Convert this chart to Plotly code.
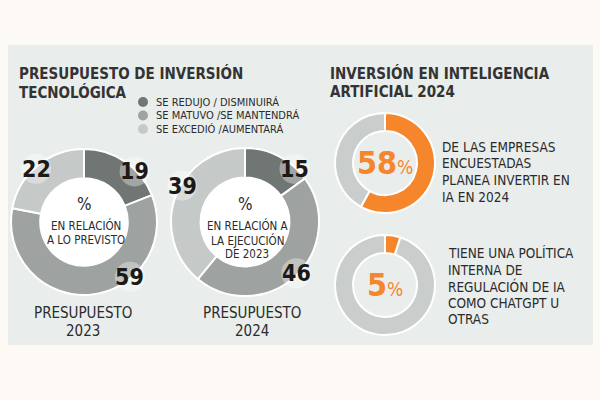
import math
import plotly.graph_objects as go

# ---------------- data ----------------
categories = ["SE REDUJO / DISMINUIRÁ", "SE MATUVO /SE MANTENDRÁ", "SE EXCEDIÓ /AUMENTARÁ"]
values_2023 = [19, 59, 22]
values_2024 = [15, 46, 39]
ai_labels = ["Sí", "No"]
ai_invest_2024 = [58, 42]
ai_policy = [5, 95]
title_left = ["PRESUPUESTO DE INVERSIÓN", "TECNOLÓGICA"]
title_right = ["INVERSIÓN EN INTELIGENCIA", "ARTIFICIAL 2024"]
center_2023 = ["EN RELACIÓN", "A LO PREVISTO"]
center_2024 = ["EN RELACIÓN A", "LA EJECUCIÓN", "DE 2023"]
caption_2023 = ["PRESUPUESTO", "2023"]
caption_2024 = ["PRESUPUESTO", "2024"]
text_invest = ["DE LAS EMPRESAS", "ENCUESTADAS", "PLANEA INVERTIR EN", "IA EN 2024"]
text_policy = ["TIENE UNA POLÍTICA", "INTERNA DE", "REGULACIÓN DE IA", "COMO CHATGPT U", "OTRAS"]

# ---------------- style ----------------
W, H = 600, 400
FONT = "DejaVu Sans Condensed, Roboto, sans-serif"
GRAYS = ["#6f7673", "#9ea3a1", "#c5cac8"]
ORANGE = "#f5862c"
LIGHT = "#c9cecc"
PANEL = "#e9eeec"
BG = "#fdf9f5"
TXT = "#2b2b2b"
NUM = "#1c1916"


def dom(cx, cy, r):
    return dict(x=[(cx - r) / W, (cx + r) / W], y=[(H - cy - r) / H, (H - cy + r) / H])


def px(x):
    return x / W


def py(y):
    return 1 - y / H


fig = go.Figure()
shapes = []
ann = []

# panel
shapes.append(dict(type="rect", xref="paper", yref="paper", x0=px(8), x1=px(593), y0=py(345), y1=py(45),
                   fillcolor=PANEL, line=dict(width=0), layer="below"))

# left donuts
left = [
    (values_2023, 84, 222, 73, center_2023, caption_2023, [45, 140, 318], 83),
    (values_2024, 245, 222, 74, center_2024, caption_2024, [43, 135, 300], 252),
]
for vals, cx, cy, r, ctext, cap, angs, capx in left:
    shapes.append(dict(type="circle", xref="paper", yref="paper", x0=px(cx - r * 0.62), x1=px(cx + r * 0.62),
                       y0=py(cy + r * 0.62), y1=py(cy - r * 0.62), fillcolor="white",
                       line=dict(width=0), layer="below"))
    fig.add_trace(go.Pie(values=vals, labels=categories, hole=0.6, sort=False, direction="clockwise",
                         rotation=0, textinfo="none", hoverinfo="label+value",
                         marker=dict(colors=GRAYS, line=dict(color="white", width=2)),
                         domain=dom(cx, cy, r), showlegend=False))
    # number badges
    for v, a in zip(vals, angs):
        rr = r * 0.98
        lx = cx + rr * math.sin(math.radians(a))
        ly = cy - rr * math.cos(math.radians(a))
        br = 15
        shapes.append(dict(type="circle", xref="paper", yref="paper", x0=px(lx - br), x1=px(lx + br),
                           y0=py(ly + br), y1=py(ly - br), fillcolor="rgba(255,255,255,0.35)",
                           line=dict(width=0), layer="above"))
        ann.append(dict(x=px(lx), y=py(ly), text=f"<b>{v}</b>", showarrow=False,
                        font=dict(family=FONT, size=23, color=NUM), xanchor="center", yanchor="middle"))
    # center text
    ann.append(dict(x=px(cx), y=py(cy - 18), text="%", showarrow=False,
                    font=dict(family=FONT, size=17, color=TXT), xanchor="center", yanchor="middle"))
    for i, t in enumerate(ctext):
        ann.append(dict(x=px(cx + 2), y=py(cy + 4 + i * 14), text=t, showarrow=False,
                        font=dict(family=FONT, size=11.5, color=TXT), xanchor="center", yanchor="middle"))
    for i, t in enumerate(cap):
        ann.append(dict(x=px(capx), y=py(313 + i * 18), text=t, showarrow=False,
                        font=dict(family=FONT, size=15, color=TXT), xanchor="center", yanchor="middle"))

# right donuts
right = [
    (ai_invest_2024, 385, 163, 50, text_invest, 440, 147),
    (ai_policy, 385, 285, 50, text_policy, 446, 253),
]
for vals, cx, cy, r, lines, tx, ty in right:
    fig.add_trace(go.Pie(values=vals, labels=ai_labels, hole=0.64, sort=False, direction="clockwise",
                         rotation=0, textinfo="none", hoverinfo="label+value",
                         marker=dict(colors=[ORANGE, LIGHT], line=dict(color="white", width=2)),
                         domain=dom(cx, cy, r), showlegend=False))
    ann.append(dict(x=px(cx), y=py(cy), showarrow=False, xanchor="center", yanchor="middle",
                    text=f"<b>{vals[0]}</b><span style='font-size:19px'>%</span>",
                    font=dict(family=FONT, size=32, color=ORANGE)))
    for i, t in enumerate(lines):
        ann.append(dict(x=px(tx), y=py(ty + i * 16.5), text=t, showarrow=False,
                        font=dict(family=FONT, size=13.5, color=TXT), xanchor="left", yanchor="middle"))

# titles
for i, t in enumerate(title_left):
    ann.append(dict(x=px(17), y=py(73 + i * 19), text=f"<b>{t}</b>", showarrow=False,
                    font=dict(family=FONT, size=15, color="#333333"), xanchor="left", yanchor="middle"))
for i, t in enumerate(title_right):
    ann.append(dict(x=px(328), y=py(73 + i * 19), text=f"<b>{t}</b>", showarrow=False,
                    font=dict(family=FONT, size=15, color="#333333"), xanchor="left", yanchor="middle"))

# legend
for i, (c, col) in enumerate(zip(categories, GRAYS)):
    yy = 102 + i * 13.5
    shapes.append(dict(type="circle", xref="paper", yref="paper", x0=px(138), x1=px(148),
                       y0=py(yy + 5), y1=py(yy - 5), fillcolor=col, line=dict(width=0)))
    ann.append(dict(x=px(154), y=py(yy), text=c, showarrow=False,
                    font=dict(family=FONT, size=11, color=TXT), xanchor="left", yanchor="middle"))

fig.update_layout(width=W, height=H, margin=dict(l=0, r=0, t=0, b=0), paper_bgcolor=BG,
                  plot_bgcolor=BG, shapes=shapes, annotations=ann, showlegend=False)
fig.write_html("out.html")
